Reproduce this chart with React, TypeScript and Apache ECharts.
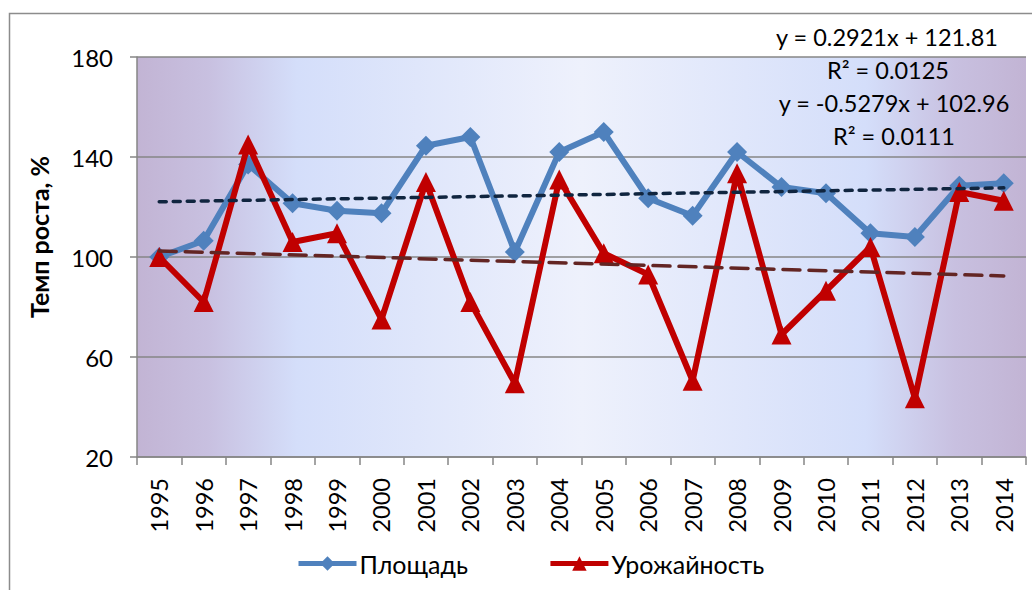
import React, { useEffect, useRef } from "react";
import * as echarts from "echarts";

const years = ["1995","1996","1997","1998","1999","2000","2001","2002","2003","2004","2005","2006","2007","2008","2009","2010","2011","2012","2013","2014"];
const area = [100, 106.5, 137, 121.5, 118.5, 117.5, 144.5, 148, 102, 142, 150, 123.5, 116.5, 142, 128, 125.5, 109.5, 108, 128.5, 129.5];
const yieldRate = [100, 82, 145, 106, 109.5, 75, 130, 82, 49.5, 131, 101.5, 93, 50.5, 133.5, 69, 86.5, 104, 43.5, 126, 122.5];
const areaTrend = { slope: 0.2921, intercept: 121.81 };
const yieldTrend = { slope: -0.5279, intercept: 102.96 };
const eqTexts = ["y = 0.2921x + 121.81", "R² = 0.0125", "y = -0.5279x + 102.96", "R² = 0.0111"];
const yTicks = { min: 20, max: 180, interval: 40 };

const FONT = "Lato, 'Open Sans', sans-serif";

function trendEnds(t: { slope: number; intercept: number }) {
  const n = years.length;
  return [
    [0, t.slope * 1 + t.intercept],
    [n - 1, t.slope * n + t.intercept],
  ];
}

export default function App() {
  const ref = useRef<HTMLDivElement>(null);
  useEffect(() => {
    if (!ref.current) return;
    const chart = echarts.init(ref.current, undefined, { renderer: "svg" });
    const eqY = [37, 70, 103, 136];
    const eqCx = [887, 888, 894, 894];
    chart.setOption({
      animation: false,
      backgroundColor: "#ffffff",
      grid: {
        left: 137,
        top: 57,
        right: 6,
        bottom: 133,
        show: true,
        borderWidth: 0,
        backgroundColor: new echarts.graphic.LinearGradient(0, 0, 1, 0, [
          { offset: 0, color: "#C2B4D4" },
          { offset: 0.08, color: "#C8C0E0" },
          { offset: 0.18, color: "#D4DEFA" },
          { offset: 0.5, color: "#EEF1FC" },
          { offset: 0.82, color: "#D4DEFA" },
          { offset: 0.92, color: "#C8C0E0" },
          { offset: 1, color: "#C2B4D4" },
        ]),
      },
      legend: {
        data: ["Площадь", "Урожайность"],
        bottom: 9,
        left: 291,
        itemWidth: 58,
        itemHeight: 18,
        itemGap: 80,
        lineStyle: { width: 5 },
        textStyle: { fontFamily: FONT, fontSize: 25, color: "#000", padding: [0, 0, 0, -2] },
      },
      xAxis: {
        type: "category",
        data: years,
        boundaryGap: true,
        axisLine: { lineStyle: { color: "#868686", width: 1.5 } },
        axisTick: { show: true, length: 8, lineStyle: { color: "#868686", width: 1.5 } },
        axisLabel: { rotate: 90, fontFamily: FONT, fontSize: 23.5, color: "#000", margin: 21, interval: 0 },
      },
      yAxis: {
        type: "value",
        min: yTicks.min,
        max: yTicks.max,
        interval: yTicks.interval,
        axisLine: { show: true, lineStyle: { color: "#868686", width: 1.5 } },
        axisTick: { show: true, length: 7, lineStyle: { color: "#868686", width: 1.5 } },
        axisLabel: { fontFamily: FONT, fontSize: 24, color: "#000", margin: 24 },
        splitLine: { lineStyle: { color: "#868686", width: 1.5 } },
      },
      graphic: [
        {
          type: "rect",
          shape: { x: 9.5, y: 13.5, width: 1100, height: 700 },
          style: { fill: "none", stroke: "#8C8C8C", lineWidth: 1.5 },
          silent: true,
        },
        {
          type: "text",
          x: 39,
          y: 237,
          rotation: Math.PI / 2,
          style: {
            text: "Темп роста, %",
            fontFamily: FONT,
            fontSize: 25,
            fontWeight: "bold",
            fill: "#000",
            align: "center",
            verticalAlign: "middle",
          },
        },
        ...eqTexts.map((t, i) => ({
          type: "text",
          x: eqCx[i],
          y: eqY[i],
          z: 100,
          style: {
            text: t,
            fontFamily: FONT,
            fontSize: 23.5,
            fill: "#000",
            align: "center",
            verticalAlign: "middle",
          },
        })),
      ],
      series: [
        {
          name: "Площадь",
          type: "line",
          data: area,
          symbol: "diamond",
          symbolSize: 20,
          itemStyle: { color: "#4F81BD" },
          lineStyle: { color: "#4F81BD", width: 6 },
          z: 2,
        },
        {
          name: "Урожайность",
          type: "line",
          data: yieldRate,
          symbol: "triangle",
          symbolSize: 20,
          itemStyle: { color: "#C00000" },
          lineStyle: { color: "#C00000", width: 6 },
          z: 3,
        },
        {
          name: "trendArea",
          type: "line",
          data: trendEnds(areaTrend),
          symbol: "none",
          lineStyle: { color: "#10253F", width: 3.5, type: [7, 7], cap: "round" },
          z: 4,
          silent: true,
        },
        {
          name: "trendYield",
          type: "line",
          data: trendEnds(yieldTrend),
          symbol: "none",
          lineStyle: { color: "#632523", width: 3.5, type: [17, 9], cap: "round" },
          z: 4,
          silent: true,
        },
      ],
    });
    return () => chart.dispose();
  }, []);
  return (
    <div
      ref={ref}
      style={{ position: "absolute", left: 0, top: 0, width: 1032, height: 590 }}
    />
  );
}
